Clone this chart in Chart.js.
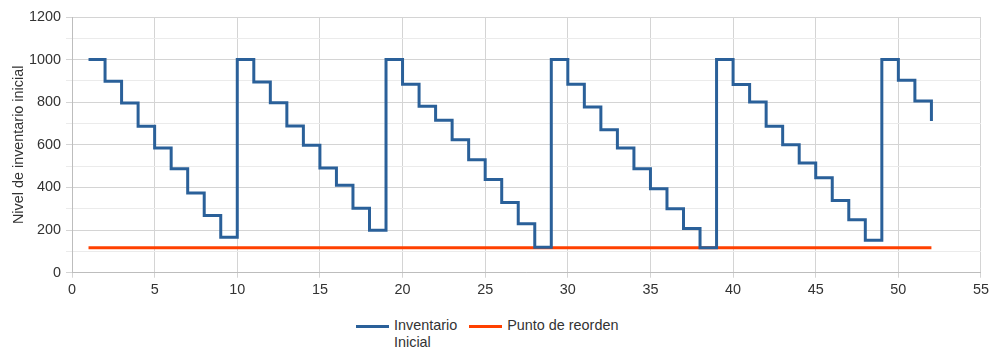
<!DOCTYPE html>
<html lang="es">

<head>
    <meta charset="UTF-8">
    <title>Inventario</title>
    <style>
        body { margin: 0; background: #fff; font-family: "Liberation Sans", Arial, sans-serif; }
        #graph-container { position: relative; width: 993px; height: 303px; }
        #legend { position: absolute; left: 356px; top: 317px; display: flex; align-items: flex-start; font-size: 14.4px; color: #333; line-height: 17px; }
        .item { display: flex; align-items: flex-start; margin-right: 12px; }
        .swatch { width: 33px; height: 3px; margin-top: 7.5px; margin-right: 5px; }
        .txt { width: min-content; white-space: normal; }
    </style>
</head>

<body>
    <div id="graph-container">
        <canvas id="Chart" width="993" height="303"></canvas>
    </div>
    <div id="legend"></div>

    <script src="https://cdn.jsdelivr.net/npm/chart.js@4/dist/chart.umd.min.js"></script>
    <script>
        // semanas
        const semanas = [1, 2, 3, 4, 5, 6, 7, 8, 9, 10, 11, 12, 13, 14, 15, 16, 17, 18, 19, 20,
            21, 22, 23, 24, 25, 26, 27, 28, 29, 30, 31, 32, 33, 34, 35, 36, 37, 38, 39, 40,
            41, 42, 43, 44, 45, 46, 47, 48, 49, 50, 51, 52];

        // nivel de inventario inicial por semana
        const inventarioInicial = [1000, 898, 796, 687, 585, 488, 374, 269, 167, 1000,
            895, 798, 688, 598, 491, 410, 303, 199, 1000, 885,
            781, 715, 624, 530, 437, 329, 230, 120, 1000, 885,
            778, 671, 585, 488, 394, 300, 207, 117, 1000, 883,
            801, 687, 601, 515, 446, 339, 249, 152, 1000, 903,
            806, 712];

        // punto de reorden (constante)
        const reordenSemanas = [1, 52];
        const reordenValores = [117, 117];

        const ejeX = { min: 0, max: 55, paso: 5 };
        const ejeY = { min: 0, max: 1200, paso: 100 };

        const azul = "#2a6099";
        const naranja = "#ff4000";
        const fuente = { family: "Liberation Sans", size: 14.4 };

        const ctx = document.getElementById("Chart").getContext("2d");
        const chart = new Chart(ctx, {
            type: "line",
            data: {
                datasets: [{
                    label: "Inventario Inicial",
                    data: semanas.map((s, i) => ({ x: s, y: inventarioInicial[i] })),
                    borderColor: azul,
                    borderWidth: 3,
                    stepped: true,
                    pointRadius: 0,
                    fill: false,
                }, {
                    label: "Punto de reorden",
                    data: reordenSemanas.map((s, i) => ({ x: s, y: reordenValores[i] })),
                    borderColor: naranja,
                    borderWidth: 3,
                    pointRadius: 0,
                    fill: false,
                }],
            },
            options: {
                responsive: false,
                animation: false,
                maintainAspectRatio: false,
                devicePixelRatio: 1,
                layout: { padding: { left: 0, right: 11, top: 17, bottom: 0 } },
                plugins: { legend: { display: false }, tooltip: { enabled: false } },
                scales: {
                    x: {
                        type: "linear",
                        min: ejeX.min,
                        max: ejeX.max,
                        ticks: { stepSize: ejeX.paso, color: "#333", font: fuente, padding: 4, maxRotation: 0 },
                        grid: { color: "#d4d4d4", tickLength: 5 },
                        border: { color: "#bdbdbd" },
                    },
                    y: {
                        min: ejeY.min,
                        max: ejeY.max,
                        ticks: {
                            stepSize: ejeY.paso,
                            color: "#333",
                            font: fuente,
                            padding: 5,
                            autoSkip: false,
                            callback: (v) => (v % 200 === 0 ? v : ""),
                        },
                        grid: {
                            tickLength: 6,
                            color: (c) => (c.tick && c.tick.value % 200 === 0 ? "#d4d4d4" : "#ebebeb"),
                        },
                        border: { color: "#bdbdbd" },
                        title: { display: true, text: "Nivel de inventario inicial", color: "#333", font: fuente, padding: { top: 10, bottom: 0 } },
                        afterFit: (s) => { s.width = 72; },
                    },
                },
            },
        });

        // leyenda html (el texto largo se parte en dos lineas como en el original)
        const legend = document.getElementById("legend");
        chart.data.datasets.forEach((d, i) => {
            const item = document.createElement("div");
            item.className = "item";
            const sw = document.createElement("span");
            sw.className = "swatch";
            sw.style.background = d.borderColor;
            const t = document.createElement("span");
            t.className = "txt";
            t.textContent = d.label;
            if (i > 0) t.style.width = "auto";
            item.appendChild(sw);
            item.appendChild(t);
            legend.appendChild(item);
        });
    </script>
</body>

</html>
